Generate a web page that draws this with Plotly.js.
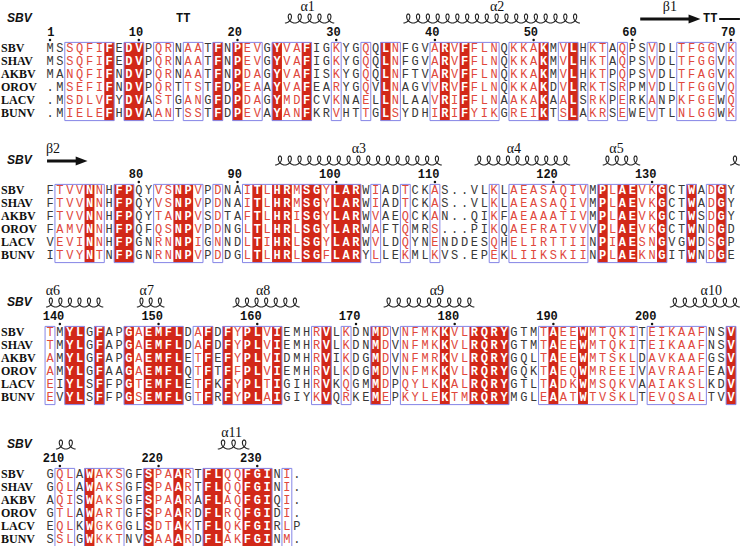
<!DOCTYPE html>
<html><head><meta charset="utf-8">
<script src="https://cdn.plot.ly/plotly-3.0.1.min.js"></script>
<style>html,body{margin:0;padding:0;background:#fff}</style>
</head><body><div id="chart" style="width:740px;height:546px"></div>
<script>
// ---------------- data ----------------
const names = ['SBV','SHAV','AKBV','OROV','LACV','BUNV'];
const refName = 'SBV';
const block1 = [
 'MSSQFIFEDVPQRNAATFNPEVGYVAFIGKYGQQLNFGVARVFFLNQKKAKMVLHKTAQPSVDLTFGGVK',
 'MSSQFIFEDVPQRNAATFNPEVGYVAFIGKYGQQLNFGVARVFFLNQKKAKMVLHKTAQPSVDLTFGGVK',
 'MANQFIFNDVPQRNAATFNPDAGYVAFISKYGQQLNFTVARVFFLNQKKAKMVLHKTPQPSVDLTFAGVK',
 '.MSEFIFNDVPQRTTSTFDPEAAYVAFEARYGQVLNAGVVRVFFLNQKKAKDVLRKTSRPMVDLTFGGVQ',
 '.MSDLVFYDVASTGANGFDPDAGYMDFCVKNAELLNLAAVRIFFLNAAKAKAALSRKPERKANPKFGEWQ',
 '.MIELEFHDVAANTSSTFDPEVAYANFKRVHTTGLSYDHIRIFYIKGREIKTSLAKRSEWEVTLNLGGWK'];
const block2 = [
 'FTVVNNHFPQYVSNPVPDNAITLHRMSGYLARWIADTCKAS..VLKLAEASAQIVMPLAEVKGCTWADGY',
 'FTVVNNHFPQYVSNPVPDNAITLHRMSGYLARWIADTCKAS..VLKLAEASAQIVMPLAEVKGCTWADGY',
 'FTVVNNHFPQYTANPVSDTAFTLHRISGYLARWVAEQCKAN..QIKFAEAAATIVMPLAEVKGCTWSDGY',
 'FAMVNNHFPQFQSNPVPDNGLTLHRLSGYLARWAFTQMRS...PIKQAEFRATVVVPLAEVKGCTWNDGD',
 'VEVINNHFPGNRNNPIGNNDLTIHRLSGYLARWVLDQYNENDDESQHELIRTTIINPIAESNGVGWDSGP',
 'ITVYNTNFPGNRNNPVPDDGLTLHRLSGFLARYLLEKMLKVS.EPEKLIIKSKIINPLAEKNGITWNDGE'];
const block3 = [
 'TMYLGFAPGAEMFLDAFDFYPLVIEMHRVLKDNMDVNFMKKVLRQRYGTMTAEEWMTQKITEIKAAFNSV',
 'TMYLGFAPGAEMFLDAFDFYPLVIEMHRVLKDNMDVNFMKKVLRQRYGTMTAEEWMTQKITEIKAAFNSV',
 'AMYLGFAPGAEMFLETFEFYPLVIDMHRVIKDGMDVNFMRKVLRQRYGQLTAEEWMTSKLDAVKAAFGSV',
 'AMYLGFAAGAEMFLQTFTFFPLVIEMHRVLKDGMDVNFMKKVLRQRYGQKTAEQWMREEIVAVRAAFEAV',
 'EIYLSFFPGTEMFLETFKFYPLTIGIHRVKQGMMDPQYLKKALRQRYGTLTADKWMSQKVAAIAKSLKDV',
 'EVYLSFFPGSEMFLGTFRFYPLAIGIYKVQRKEMEPKYLEKTMRQRYMGLEAATWTVSKLTEVQSALTVV'];
const block4 = [
 'GQLAWAKSGFSPAARTFLQQFGINI.',
 'GQLAWAKSGFSPAARTFLQQFGINI.',
 'AQISWAKSGFSPAARAFLAQFGIQI.',
 'GTLAWARTGFSPAARDFLRQFGIDI.',
 'EQLKWGKGGLSDTAKTFLQKFGIRLP',
 'SSLGWKKTNVSAAARDFLAKFGINM.'];
// column conservation: I = strict identity (red box), S = similar (framed), . = none
const cons1 = '..SSSSI.II.SS.SS.I.ISS.ISSI..S..S.IS...SISISSS.SSSI.SI.SS.S..S..SSSS.S';
const cons2 = '.SSSIS.II..SSIIS.S..SISIISIISIII.S..S..S.....S.SSSSSSSS.ISIISSI..I.SI.';
const cons3 = 'S.II.I..ISIIII.SI.ISIISI...SI.S..IS.SSSSISSIIII...SISSISSSSS.SSSSSS..I';
const cons4 = '.SS.ISSS..ISSIS.IISSIII.S.';
// secondary structure of SBV: [block, first column, last column]
const helices = [[0,24.8,29.8],[0,36.8,54.7],[1,23.8,40.7],[1,44,53.7],[1,57,60.8],[1,69.9,70.9],
  [2,0.6,6.4],[2,9.8,12.6],[2,19.5,26.3],[2,34.8,44],[2,63.8,70.9],[3,1.6,3.6],[3,18,21.2]];
const helixNames = [[0,27.1,'α1'],[0,46.3,'α2'],[1,32.3,'α3'],[1,48,'α4'],[1,58.4,'α5'],
  [2,1.3,'α6'],[2,10.8,'α7'],[2,22.6,'α8'],[2,40.2,'α9'],[2,68,'α10'],[3,19.4,'α11']];
const strands = [[0,60.8,66.9],[1,0.7,4.8]];
const strandNames = [[0,63.8,'β1'],[1,1.3,'β2']];
const turns = [[0,14.5,'TT'],[0,67.9,'TT']];
const coils = [[0,68.8,70.9]];

// ---------------- layout constants ----------------
const blocks = [block1, block2, block3, block4];
const cons = [cons1, cons2, cons3, cons4];
const C0 = 50, CW = 9.87, W = 740, H = 546;
const rowStart = [49, 191, 333, 475], rowGap = 13;
const xmin = 1 - C0 / CW, xmax = 1 + (W - C0) / CW;
const px2col = p => xmin + p / CW;
const RED = '#d22818', LRED = '#e0483c', BLUE = '#8585e6', DARK = '#383838';

const traces = [], shapes = [];
// residues
const nx = [], ny = [], nt = [], nc = [], ix = [], iy = [], it = [];
const labX = [], labY = [], labT = [];
blocks.forEach((blk, b) => {
  blk.forEach((seq, r) => {
    const y = rowStart[b] + r * rowGap;
    labX.push(px2col(1)); labY.push(y); labT.push(names[r]);
    for (let c = 0; c < seq.length; c++) {
      const k = cons[b][c];
      if (k === 'I') { ix.push(c + 1); iy.push(y); it.push(seq[c]); }
      else { nx.push(c + 1); ny.push(y); nt.push(seq[c]); nc.push(k === 'S' && seq[c] !== '.' ? LRED : DARK); }
    }
  });
  // boxes
  const cs = cons[b];
  const top = rowStart[b] - 6.6, bot = rowStart[b] + 5 * rowGap + 6.6;
  let c = 0;
  while (c < cs.length) {
    if (cs[c] === 'I') { let e = c; while (e + 1 < cs.length && cs[e + 1] === 'I') e++;
      shapes.push({type:'rect', xref:'x', yref:'y', x0:c + 0.5, x1:e + 1.5, y0:top, y1:bot,
        fillcolor:RED, line:{width:0}, layer:'below'}); c = e + 1; } else c++;
  }
  c = 0;
  while (c < cs.length) {
    if (cs[c] !== '.') { let e = c; while (e + 1 < cs.length && cs[e + 1] !== '.') e++;
      shapes.push({type:'rect', xref:'x', yref:'y', x0:c + 0.5, x1:e + 1.5, y0:top, y1:bot,
        fillcolor:'rgba(0,0,0,0)', line:{width:1, color:BLUE}, layer:'below'}); c = e + 1; } else c++;
  }
});
traces.push({type:'scatter', mode:'text', x:nx, y:ny, text:nt, hoverinfo:'skip',
  textfont:{family:'Liberation Mono', size:12, color:nc}});
traces.push({type:'scatter', mode:'text', x:ix, y:iy, text:it, hoverinfo:'skip',
  textfont:{family:'Liberation Mono', size:12, color:'#ffffff', weight:'bold'}});
traces.push({type:'scatter', mode:'text', x:labX, y:labY, text:labT, textposition:'middle right', hoverinfo:'skip',
  textfont:{family:'Liberation Serif', size:12, color:'#111', weight:'bold'}});

// numbering of reference sequence
const numX = [], numY = [], numT = [], dotX = [], dotY = [];
let res = 0;
blocks.forEach((blk, b) => {
  const s = blk[0];
  for (let c = 0; c < s.length; c++) {
    if (s[c] === '.') continue;
    res++;
    if (res === 1 || res % 10 === 0) {
      numX.push(c + 1 + 0.45); numY.push(rowStart[b] - 16); numT.push(String(res));
      dotX.push(c + 1); dotY.push(rowStart[b] - 9);
    }
  }
});
traces.push({type:'scatter', mode:'text', x:numX, y:numY, text:numT, textposition:'middle left', hoverinfo:'skip',
  textfont:{family:'Liberation Mono', size:12, color:'#111', weight:'bold'}});
traces.push({type:'scatter', mode:'markers', x:dotX, y:dotY, hoverinfo:'skip',
  marker:{size:2.5, color:'#111'}});
// reference name per block
traces.push({type:'scatter', mode:'text', x:blocks.map(() => px2col(7)), y:rowStart.map(v => v - 30),
  text:blocks.map(() => refName), textposition:'middle right', hoverinfo:'skip',
  textfont:{family:'Liberation Sans', size:12, color:'#111', weight:'bold', style:'italic'}});
// SS labels
const ssl = helixNames.concat(strandNames);
traces.push({type:'scatter', mode:'text', x:ssl.map(d => d[1]), y:ssl.map(d => rowStart[d[0]] - 42),
  text:ssl.map(d => d[2]), hoverinfo:'skip', textfont:{family:'Liberation Serif', size:14, color:'#111'}});
traces.push({type:'scatter', mode:'text', x:turns.map(d => d[1]), y:turns.map(d => rowStart[d[0]] - 30),
  text:turns.map(d => d[2]), hoverinfo:'skip', textfont:{family:'Liberation Mono', size:12, color:'#111', weight:'bold'}});

// helices as coil paths
helices.forEach(h => {
  const [b, x0, x1] = h;
  const n = Math.max(1, Math.round(x1 - x0));
  const p = (x1 - x0) / n, a = 0.38 * p, hh = 9;
  const yb = rowStart[b] - 26;
  let d = '';
  const steps = n * 28;
  for (let i = 0; i <= steps; i++) {
    const t = 2 * Math.PI * n * i / steps;
    const x = x0 + p * t / (2 * Math.PI) + a * Math.sin(t);
    const y = yb - hh * (1 - Math.cos(t)) / 2;
    d += (i ? 'L' : 'M') + x.toFixed(3) + ',' + y.toFixed(2);
  }
  shapes.push({type:'path', xref:'x', yref:'y', path:d, line:{color:'#222', width:1.1}});
});
strands.forEach(s => {
  const [b, x0, x1] = s; const y = rowStart[b] - 30;
  shapes.push({type:'line', xref:'x', yref:'y', x0:x0, x1:x1 - 0.8, y0:y, y1:y, line:{color:'#111', width:3}});
  shapes.push({type:'path', xref:'x', yref:'y', path:`M${x1 - 1.2},${y - 4.5}L${x1},${y}L${x1 - 1.2},${y + 4.5}Z`,
    fillcolor:'#111', line:{width:0}});
});
coils.forEach(s => {
  const [b, x0, x1] = s; const y = rowStart[b] - 30;
  shapes.push({type:'line', xref:'x', yref:'y', x0:x0, x1:x1, y0:y, y1:y, line:{color:'#111', width:2}});
});

Plotly.newPlot('chart', traces, {
  width:W, height:H, margin:{l:0, r:0, t:0, b:0}, showlegend:false,
  paper_bgcolor:'#fff', plot_bgcolor:'#fff',
  xaxis:{range:[xmin, xmax], visible:false, fixedrange:true},
  yaxis:{range:[H, 0], visible:false, fixedrange:true},
  shapes:shapes
}, {staticPlot:true});
</script></body></html>
